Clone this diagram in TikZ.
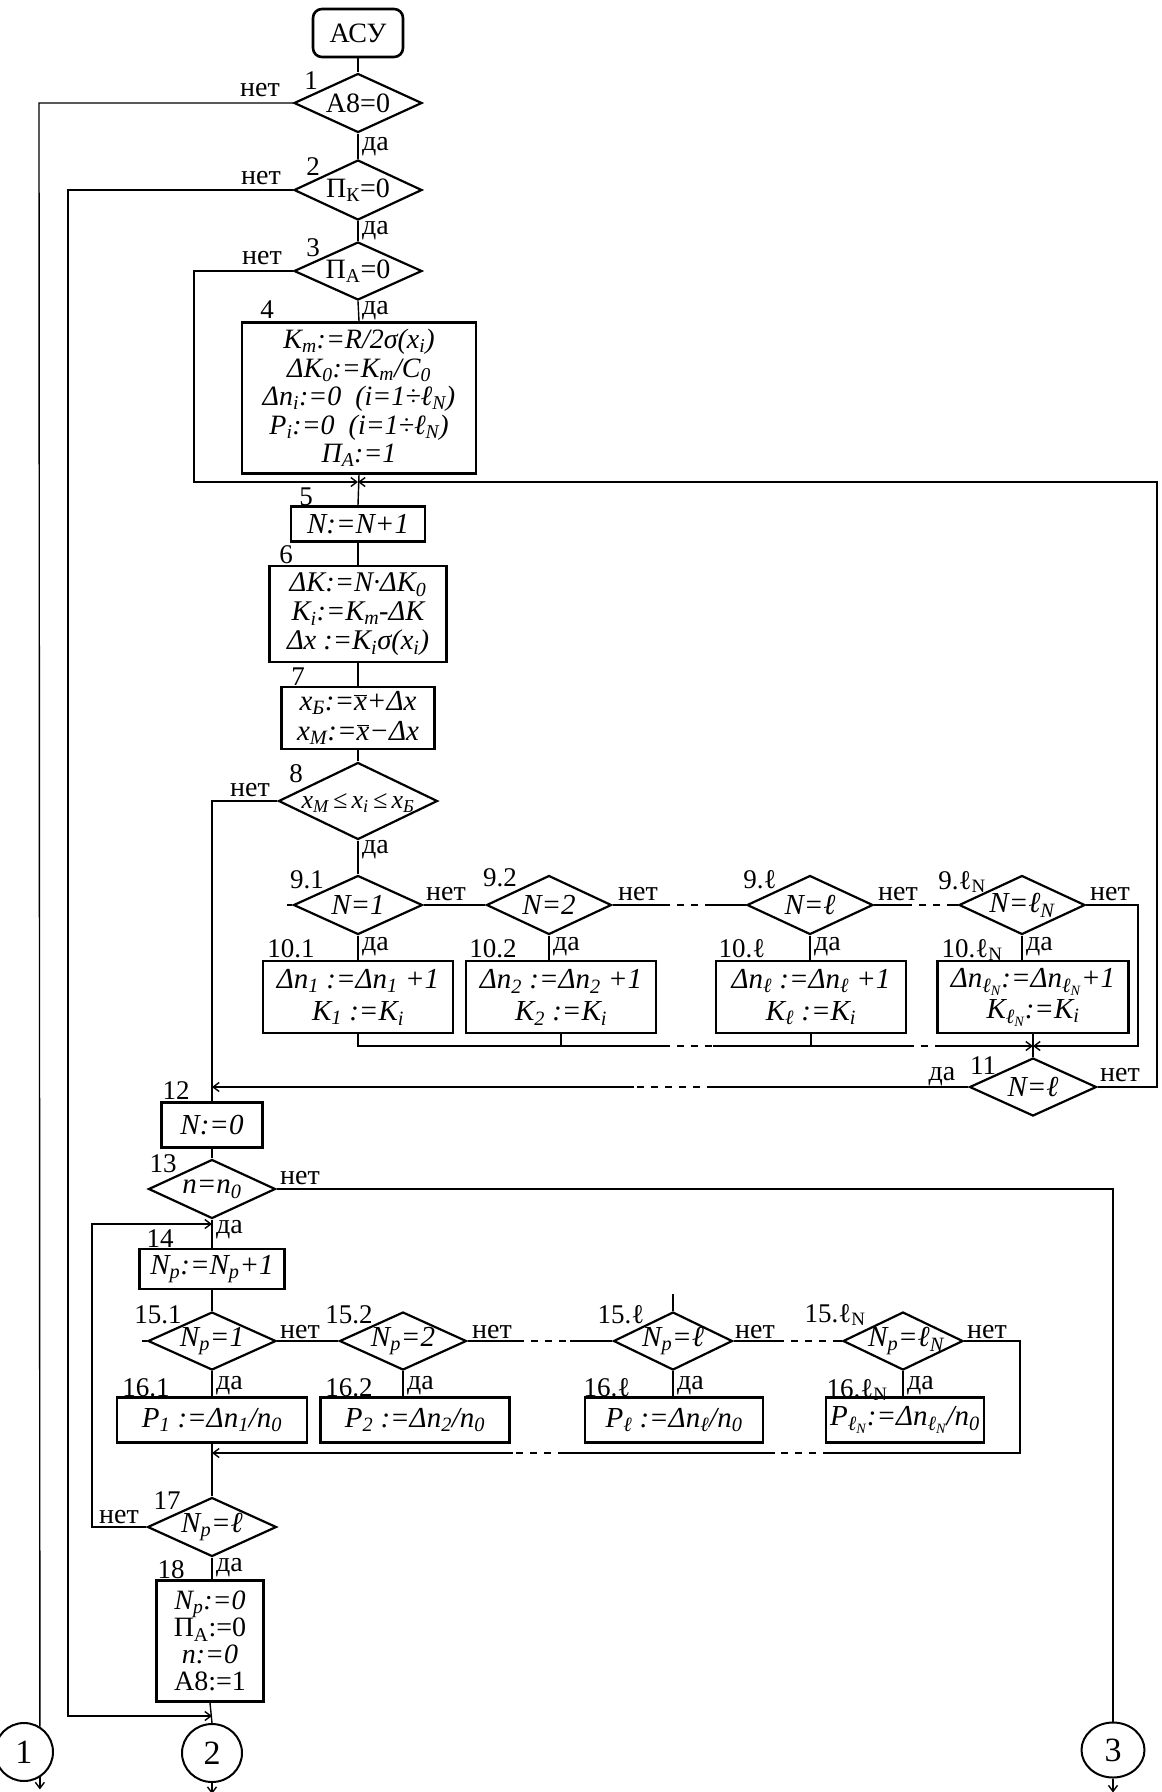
\documentclass[tikz,border=0pt]{standalone}
\usepackage{fontspec}
\setmainfont{Liberation Serif}
\usetikzlibrary{shapes.geometric,arrows.meta}
\newcommand\sbs[1]{\textsubscript{#1}}
\newcommand\xbr{$\overline{\mbox{\itshape x}}$}
\begin{document}
\begin{tikzpicture}[x=1pt,y=-1pt,
 box/.style={draw,line width=2.6pt,inner sep=0pt,align=center,font=\itshape\fontsize{29}{29}\selectfont},
 dia/.style={draw,diamond,line width=2.2pt,inner sep=0pt},
 dt/.style={font=\itshape\fontsize{29}{29}\selectfont,inner sep=0pt},
 dtu/.style={font=\fontsize{28}{28}\selectfont,inner sep=0pt},
 num/.style={font=\fontsize{27}{27}\selectfont,inner sep=0pt},
 yn/.style={font=\fontsize{28}{28}\selectfont,inner sep=0pt},
 ln/.style={line width=1.4pt},
 dl/.style={ln,dash pattern=on 7pt off 7pt},
 arr/.style={ln,-{Straight Barb[length=6pt,width=9pt]}},
 conn/.style={draw,ellipse,line width=2pt,inner sep=0pt,font=\fontsize{34}{34}\selectfont},
]
\useasboundingbox[fill=white] (0,0) rectangle (1162,1792);

% ---------- column A ----------
\node[box,rounded corners=9pt,font=\fontsize{28}{28}\selectfont,minimum width=90pt,minimum height=48pt] (asu) at (358,33) {АСУ};
\node[dia,minimum width=128pt,minimum height=59pt,label={[dtu]center:А8=0}] (d1) at (358,103) {};
\node[dia,minimum width=128pt,minimum height=60pt,label={[dtu]center:П\sbs{К}=0}] (d2) at (358,190) {};
\node[dia,minimum width=128pt,minimum height=58pt,label={[dtu]center:П\sbs{А}=0}] (d3) at (358,271) {};
\node[box,minimum width=234pt,minimum height=151pt,font=\itshape\fontsize{28}{28.5}\selectfont] (b4) at (359,398)
 {K\sbs{m}:=R/2σ(x\sbs{i})\\ΔK\sbs{0}:=K\sbs{m}/C\sbs{0}\\Δn\sbs{i}:=0~~(i=1÷ℓ\sbs{N})\\P\sbs{i}:=0~~(i=1÷ℓ\sbs{N})\\П\sbs{A}:=1};
\node[box,minimum width=134pt,minimum height=35pt] (b5) at (358,524) {N:=N+1};
\node[box,minimum width=177pt,minimum height=96pt,font=\itshape\fontsize{28.5}{29}\selectfont] (b6) at (358,614)
 {ΔK:=N·ΔK\sbs{0}\\K\sbs{i}:=K\sbs{m}-ΔK\\Δx :=K\sbs{i}σ(x\sbs{i})};
\node[box,minimum width=153pt,minimum height=62pt,font=\itshape\fontsize{29}{30}\selectfont] (b7) at (358,718)
 {x\sbs{Б}:=\xbr+Δx\\x\sbs{M}:=\xbr−Δx};
\node[dia,minimum width=159pt,minimum height=77pt,label={[dt,font=\itshape\fontsize{26}{26}\selectfont,yshift=-2pt]center:x\sbs{M}\,≤\,x\sbs{i}\,≤\,x\sbs{Б}}] (d8) at (358,801) {};

% ---------- row 9/10 ----------
\node[dia,minimum width=129pt,minimum height=59pt,label={[dt]center:N=1}] (d91) at (358,905) {};
\node[dia,minimum width=125pt,minimum height=59pt,label={[dt]center:N=2}] (d92) at (549,905) {};
\node[dia,minimum width=126pt,minimum height=59pt,label={[dt]center:N=ℓ}] (d9l) at (810,905) {};
\node[dia,minimum width=126pt,minimum height=59pt,label={[dt]center:N=ℓ\sbs{N}}] (d9lN) at (1022,905) {};
\node[box,minimum width=190pt,minimum height=72pt,font=\itshape\fontsize{29}{32}\selectfont] (b101) at (358,997) {Δn\sbs{1} :=Δn\sbs{1} +1\\K\sbs{1} :=K\sbs{i}};
\node[box,minimum width=190pt,minimum height=72pt,font=\itshape\fontsize{29}{32}\selectfont] (b102) at (561,997) {Δn\sbs{2} :=Δn\sbs{2} +1\\K\sbs{2} :=K\sbs{i}};
\node[box,minimum width=190pt,minimum height=72pt,font=\itshape\fontsize{29}{32}\selectfont] (b10l) at (811,997) {Δn\sbs{ℓ} :=Δn\sbs{ℓ} +1\\K\sbs{ℓ} :=K\sbs{i}};
\node[box,minimum width=191pt,minimum height=72pt,font=\itshape\fontsize{29}{31}\selectfont] (b10lN) at (1033,997) {Δn\sbs{ℓ\sbs{N}}:=Δn\sbs{ℓ\sbs{N}}+1\\K\sbs{ℓ\sbs{N}}:=K\sbs{i}};
\node[dia,minimum width=127pt,minimum height=58pt,label={[dt]center:N=ℓ}] (d11) at (1033,1087) {};

% ---------- column B ----------
\node[box,minimum width=101pt,minimum height=45pt] (b12) at (212,1125) {N:=0};
\node[dia,minimum width=127pt,minimum height=59pt,label={[dt]center:n=n\sbs{0}}] (d13) at (212,1189) {};
\node[box,minimum width=145pt,minimum height=40pt] (b14) at (212,1269) {N\sbs{p}:=N\sbs{p}+1};
\node[dia,minimum width=128pt,minimum height=58pt,label={[dt]center:N\sbs{p}=1}] (d151) at (212,1341) {};
\node[dia,minimum width=127pt,minimum height=58pt,label={[dt]center:N\sbs{p}=2}] (d152) at (403,1341) {};
\node[dia,minimum width=119pt,minimum height=58pt,label={[dt]center:N\sbs{p}=ℓ}] (d15l) at (673,1341) {};
\node[dia,minimum width=120pt,minimum height=58pt,label={[dt,xshift=3pt]center:N\sbs{p}=ℓ\sbs{N}}] (d15lN) at (903,1341) {};
\node[box,minimum width=190pt,minimum height=45pt] (b161) at (212,1420) {P\sbs{1} :=Δn\sbs{1}/n\sbs{0}};
\node[box,minimum width=189pt,minimum height=45pt] (b162) at (415,1420) {P\sbs{2} :=Δn\sbs{2}/n\sbs{0}};
\node[box,minimum width=178pt,minimum height=45pt] (b16l) at (674,1420) {P\sbs{ℓ} :=Δn\sbs{ℓ}/n\sbs{0}};
\node[box,minimum width=158pt,minimum height=45pt] (b16lN) at (905,1420) {P\sbs{ℓ\sbs{N}}:=Δn\sbs{ℓ\sbs{N}}/n\sbs{0}};
\node[dia,minimum width=129pt,minimum height=59pt,label={[dt]center:N\sbs{p}=ℓ}] (d17) at (212,1527) {};
\node[box,minimum width=107pt,minimum height=121pt,font=\fontsize{28}{27}\selectfont] (b18) at (210,1641)
 {{\itshape N\sbs{p}:=0}\\П\sbs{А}:=0\\{\itshape n:=0}\\А8:=1};

% ---------- connectors (off-page) ----------
\node[conn,minimum width=58pt,minimum height=58pt] (c1) at (24,1752) {1};
\node[conn,minimum width=60pt,minimum height=58pt] (c2) at (212,1753) {2};
\node[conn,minimum width=63pt,minimum height=55pt] (c3) at (1113,1750) {3};

% ---------- numbers ----------
\node[num] (n1) at (311,81) {1};
\node[num] (n2) at (313,167) {2};
\node[num] (n3) at (313,248) {3};
\node[num] (n4) at (267,310) {4};
\node[num] (n5) at (306,497) {5};
\node[num] (n6) at (286,555) {6};
\node[num] (n7) at (298,677) {7};
\node[num] (n8) at (296,774) {8};
\node[num] (n91) at (307,880) {9.1};
\node[num] (n92) at (500,878) {9.2};
\node[num] (n9l) at (760,880) {9.ℓ};
\node[num] (n9lN) at (962,882) {9.ℓ\sbs{N}};
\node[num] (n101) at (291,949) {10.1};
\node[num] (n102) at (493,949) {10.2};
\node[num] (n10l) at (742,949) {10.ℓ};
\node[num] (n10lN) at (972,950) {10.ℓ\sbs{N}};
\node[num] (n11) at (983,1066) {11};
\node[num] (n12) at (176,1091) {12};
\node[num] (n13) at (163,1164) {13};
\node[num] (n14) at (160,1239) {14};
\node[num] (n151) at (158,1315) {15.1};
\node[num] (n152) at (349,1315) {15.2};
\node[num] (n15l) at (621,1315) {15.ℓ};
\node[num] (n15lN) at (835,1315) {15.ℓ\sbs{N}};
\node[num] (n161) at (146,1388) {16.1};
\node[num] (n162) at (349,1388) {16.2};
\node[num] (n16l) at (607,1388) {16.ℓ};
\node[num] (n16lN) at (857,1390) {16.ℓ\sbs{N}};
\node[num] (n17) at (167,1501) {17};
\node[num] (n18) at (171,1570) {18};

% ---------- yes / no ----------
\node[yn] (no1) at (260,90) {нет};
\node[yn] (no2) at (261,178) {нет};
\node[yn] (no3) at (262,258) {нет};
\node[yn] (no8) at (250,790) {нет};
\node[yn] (no91) at (446,894) {нет};
\node[yn] (no92) at (638,894) {нет};
\node[yn] (no9l) at (898,894) {нет};
\node[yn] (no9lN) at (1110,894) {нет};
\node[yn] (no11) at (1120,1075) {нет};
\node[yn] (no13) at (300,1178) {нет};
\node[yn] (no151) at (300,1332) {нет};
\node[yn] (no152) at (492,1332) {нет};
\node[yn] (no15l) at (755,1332) {нет};
\node[yn] (no15lN) at (987,1332) {нет};
\node[yn] (no17) at (119,1517) {нет};
\node[yn,anchor=west] (ye1) at (362,147) {да};
\node[yn,anchor=west] (ye2) at (362,231) {да};
\node[yn,anchor=west] (ye3) at (362,311) {да};
\node[yn,anchor=west] (ye8) at (362,850) {да};
\node[yn,anchor=west] (ye91) at (362,947) {да};
\node[yn,anchor=west] (ye92) at (553,947) {да};
\node[yn,anchor=west] (ye9l) at (814,947) {да};
\node[yn,anchor=west] (ye9lN) at (1026,947) {да};
\node[yn] (ye11) at (942,1077) {да};
\node[yn,anchor=west] (ye13) at (216,1230) {да};
\node[yn,anchor=west] (ye151) at (216,1386) {да};
\node[yn,anchor=west] (ye152) at (407,1386) {да};
\node[yn,anchor=west] (ye15l) at (677,1386) {да};
\node[yn,anchor=west] (ye15lN) at (907,1386) {да};
\node[yn,anchor=west] (ye17) at (216,1568) {да};

% ---------- junction coordinates ----------
\coordinate (j5) at (358,482);
\coordinate (l3) at (194,482);
\coordinate (r11) at (1157,482);
\coordinate (j11) at (1033,1046);
\coordinate (r9) at (1138,1046);
\coordinate (j12) at (212,1087);
\coordinate (j14) at (212,1224);
\coordinate (l17) at (92,1224);
\coordinate (j16) at (212,1453);
\coordinate (r15) at (1020,1453);
\coordinate (j2) at (212,1716);
\coordinate (l2) at (68,1716);
\coordinate (l1) at (39,103);

% ---------- flow lines ----------
\draw[ln] (asu.south) -- (d1.north);
\draw[ln] (d1.south) -- (d2.north);
\draw[ln] (d2.south) -- (d3.north);
\draw[ln] (d3.south) -- (b4.north);
\draw[ln] (b4.south) -- (b5.north);
\draw[arr] (d3.west) -| (l3) -- (j5);
\draw[arr] (d11.east) -| (r11) -- (j5);
\draw[ln] (b5.south) -- (b6.north);
\draw[ln] (b6.south) -- (b7.north);
\draw[ln] (b7.south) -- (d8.north);
\draw[ln] (d8.south) -- (d91.north);
\draw[ln] (d91.south) -- (b101.north);
\draw[ln] (d1.west) -- (l1) -- (c1.58);
\draw[arr] (c1.-58) -- ++(0,12);
\draw[arr] (d2.west) -| (l2) -- (j2);
\draw[ln] (b18.south) -- (c2.north);
\draw[arr] (c2.south) -- ++(0,11);
\draw[ln] (d8.west) -| (b12.north);

% row 9
\draw[ln] (d91.west) -- ++(-5,0);
\draw[ln] (d91.east) -- (d92.west);
\draw[ln] (d92.east) -- (663,905);
\draw[dl] (663,905) -- (708,905);
\draw[ln] (708,905) -- (d9l.west);
\draw[ln] (d9l.east) -- (905,905);
\draw[dl] (905,905) -- (953,905);
\draw[ln] (953,905) -- (d9lN.west);
\draw[arr] (d9lN.east) -| (r9) -- (j11);
\draw[ln] (d92.south) -- (d92.south |- b102.north);
\draw[ln] (d9l.south) -- (d9l.south |- b10l.north);
\draw[ln] (d9lN.south) -- (d9lN.south |- b10lN.north);
\draw[ln] (b10lN.south) -- (d11.north);
\draw[ln] (b101.south) |- (663,1046);
\draw[dl] (663,1046) -- (713,1046);
\draw[ln] (713,1046) -- (907,1046);
\draw[dl] (907,1046) -- (937,1046);
\draw[arr] (937,1046) -- (j11);
\draw[ln] (b102.south) -- ++(0,13);
\draw[ln] (b10l.south) -- ++(0,13);
\draw[ln] (d11.west) -- (714,1087);
\draw[dl] (714,1087) -- (634,1087);
\draw[arr] (634,1087) -- (j12);

% lower part
\draw[ln] (b12.south) -- (d13.north);
\draw[ln] (d13.south) -- (b14.north);
\draw[ln] (d13.east) -| (c3.north);
\draw[arr] (c3.south) -- ++(0,14);
\draw[arr] (d17.west) -| (l17) -- (j14);
\draw[ln] (b14.south) -- (d151.north);
\draw[ln] (d151.south) -- (b161.north);
\draw[ln] (d151.west) -- ++(-5,0);
\draw[ln] (d151.east) -- (d152.west);
\draw[ln] (d152.east) -- (517,1341);
\draw[dl] (517,1341) -- (570,1341);
\draw[ln] (570,1341) -- (d15l.west);
\draw[ln] (d15l.east) -- (777,1341);
\draw[dl] (777,1341) -- (833,1341);
\draw[ln] (833,1341) -- (d15lN.west);
\draw[ln] (d15l.north) -- ++(0,-17);
\draw[ln] (d15lN.east) -| (r15) -- (830,1453);
\draw[dl] (830,1453) -- (775,1453);
\draw[ln] (775,1453) -- (565,1453);
\draw[dl] (565,1453) -- (513,1453);
\draw[arr] (513,1453) -- (j16);
\draw[ln] (d152.south) -- (d152.south |- b162.north);
\draw[ln] (d15l.south) -- (d15l.south |- b16l.north);
\draw[ln] (d15lN.south) -- (d15lN.south |- b16lN.north);
\draw[ln] (b161.south) -- (d17.north);
\draw[ln] (d17.south) -- (d17.south |- b18.north);
\end{tikzpicture}
\end{document}
